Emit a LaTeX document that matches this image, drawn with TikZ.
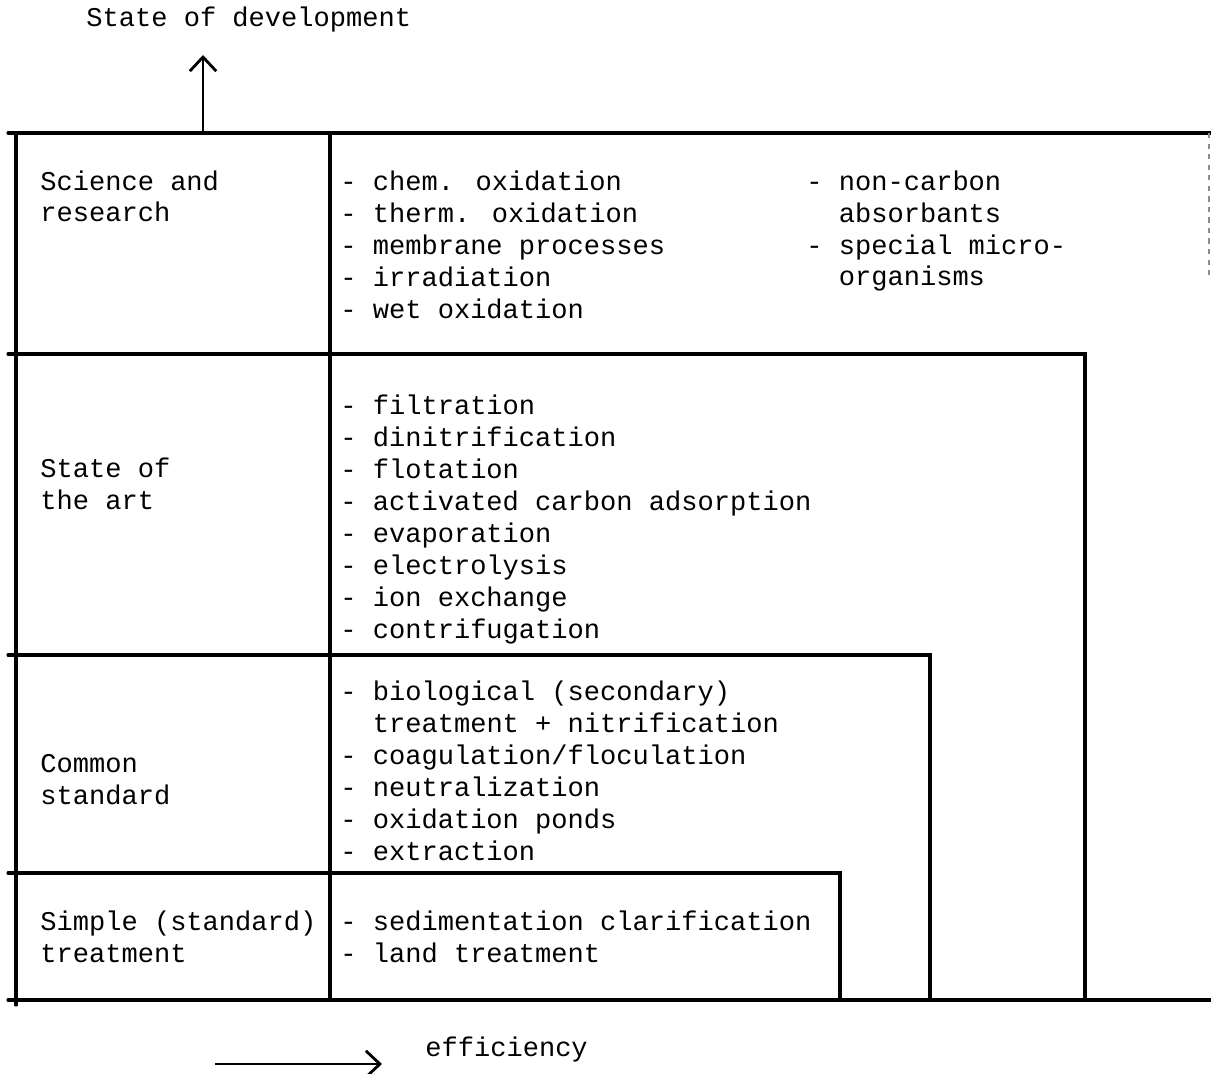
\documentclass[tikz,border=0pt]{standalone}
\usepackage{fontspec}
\setmainfont{Liberation Mono}
\usetikzlibrary{arrows.meta}

\begin{document}
\begin{tikzpicture}[
    x=0.2mm, y=-0.2mm,
    rule/.style={line width=1.8pt, line cap=round},
    faint/.style={line width=0.8pt, black!45, dashed},
    % base of a multi-line node = baseline of its last line
    lab/.style={anchor=base west, inner sep=0pt, align=left,
                font=\fontsize{15.4}{18.2}\selectfont},
    items/.style={lab},
    arr/.style={-{Straight Barb[length=8pt, width=15pt]}, line width=1.6pt}
]
\useasboundingbox (0,0) rectangle (1211,1074);

% ===================================================================
% FRAME
% ===================================================================
\draw[rule] (8,133) -- (1211,133);
\draw[rule] (8,1000) -- (1211,1000);
\draw[rule] (16,133) -- (16,1005);
\draw[rule] (330,133) -- (330,1000);
\draw[faint] (1209,133) -- (1209,280);

% steps
\draw[rule] (8,354) -- (1085,354) -- (1085,1000);
\draw[rule] (8,655) -- (930,655) -- (930,1000);
\draw[rule] (8,873) -- (840,873) -- (840,1000);

% ===================================================================
% LEVELS
% ===================================================================
\node[lab] (science) at (40,222) {Science and\\research};
\node[items] (scilist) at (340,318)
    {- chem. oxidation\\- therm. oxidation\\- membrane processes\\- irradiation\\- wet oxidation};
\node[items] (scilist2) at (806,286)
    {- non-carbon\\\hphantom{- }absorbants\\- special micro-\\\hphantom{- }organisms};

\node[lab] (art) at (40,509) {State of\\the art};
\node[items] (artlist) at (340,638)
    {- filtration\\- dinitrification\\- flotation\\- activated carbon adsorption\\%
     - evaporation\\- electrolysis\\- ion exchange\\- contrifugation};

\node[lab] (common) at (40,804) {Common\\standard};
\node[items] (comlist) at (340,860)
    {- biological (secondary)\\\hphantom{- }treatment + nitrification\\%
     - coagulation/floculation\\- neutralization\\- oxidation ponds\\- extraction};

\node[lab] (simple) at (40,962) {Simple (standard)\\treatment};
\node[items] (simlist) at (340,962)
    {- sedimentation clarification\\- land treatment};

% ===================================================================
% AXES
% ===================================================================
\node[lab] (dev) at (86,27) {State of development};
\coordinate (devfoot) at (203,133);
\coordinate (devtip) at (203,55);
\draw[arr] (devfoot) -- (devtip);

\node[lab] (eff) at (425,1056) {efficiency};
\coordinate (effstart) at (215,1064);
\coordinate (effend) at (382,1064);
\draw[arr] (effstart) -- (effend);

\end{tikzpicture}
\end{document}
